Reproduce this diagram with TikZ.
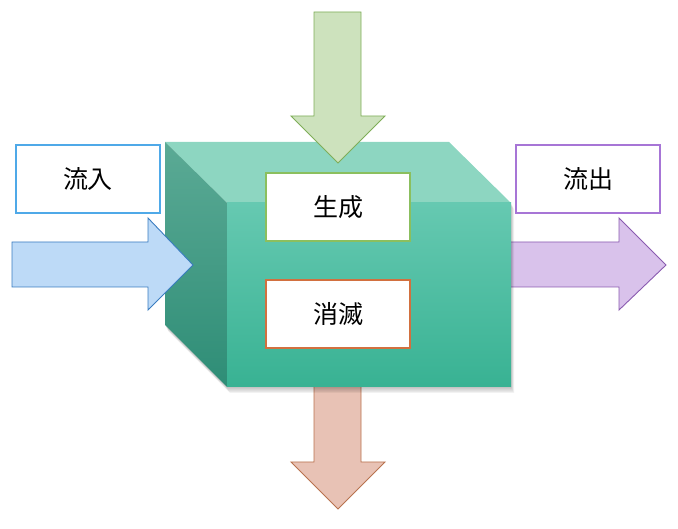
\documentclass[tikz,border=0pt]{standalone}
\usepackage{fontspec}
\newfontfamily\cjk{Noto Sans CJK JP}
\definecolor{topface}{HTML}{8DD6C1}
\definecolor{fronttop}{HTML}{66C9B1}
\definecolor{frontbot}{HTML}{38B293}
\definecolor{lefttop}{HTML}{5BAA95}
\definecolor{leftbot}{HTML}{2E8D76}
\definecolor{inFill}{HTML}{BDDAF7}
\definecolor{inLine}{HTML}{3A7CC0}
\definecolor{inBox}{HTML}{4FA9E8}
\definecolor{outFill}{HTML}{D9C2EB}
\definecolor{outLine}{HTML}{8A5BB0}
\definecolor{outBox}{HTML}{A775D6}
\definecolor{genFill}{HTML}{CDE2BD}
\definecolor{genLine}{HTML}{7FAE58}
\definecolor{genBox}{HTML}{8BBF5E}
\definecolor{lossFill}{HTML}{E8C2B5}
\definecolor{lossLine}{HTML}{B8724E}
\definecolor{lossBox}{HTML}{D2703F}
\tikzset{
  labelbox/.style={draw, line width=1.4pt, fill=white, minimum width=144pt, minimum height=68pt, inner sep=0pt, font=\cjk\fontsize{25}{29}\selectfont},
  arrowshape/.style={line width=0.9pt, line join=miter}
}
\begin{document}
\begin{tikzpicture}[x=1pt,y=-1pt]
\useasboundingbox (0,0) rectangle (678,529);
% arrows behind the cube
\draw[arrowshape, fill=outFill, draw=outLine] (500,242) -- (619,242) -- (619,218) -- (666,265) -- (619,310) -- (619,287) -- (500,287) -- cycle;
\draw[arrowshape, fill=lossFill, draw=lossLine] (314,380) -- (314,462) -- (291,462) -- (338,509) -- (385,462) -- (361,462) -- (361,380) -- cycle;
% cube shadow
\foreach \i in {1,...,5}{
  \fill[black, opacity=0.05] (165+\i*0.6,142+\i*1.2) -- (449+\i*0.6,142+\i*1.2) -- (511+\i*0.6,203+\i*1.2) -- (511+\i*0.6,387+\i*1.2) -- (227+\i*0.6,387+\i*1.2) -- (165+\i*0.6,325+\i*1.2) -- cycle;
}
% cube
\fill[topface] (165,142) -- (449,142) -- (511,203) -- (227,203) -- cycle;
\shade[top color=lefttop, bottom color=leftbot] (165,142) -- (227,203) -- (227,387) -- (165,325) -- cycle;
\shade[top color=fronttop, bottom color=frontbot] (227,203) rectangle (511,387);
% arrows in front
\draw[arrowshape, fill=inFill, draw=inLine] (12,242) -- (148,242) -- (148,218) -- (193,265) -- (148,310) -- (148,287) -- (12,287) -- cycle;
\draw[arrowshape, fill=genFill, draw=genLine] (314,12) -- (314,116) -- (291,116) -- (338,163) -- (385,116) -- (361,116) -- (361,12) -- cycle;
% label boxes
\node[labelbox, draw=inBox] (inflow) at (88,179) {流入};
\node[labelbox, draw=outBox] (outflow) at (588,179) {流出};
\node[labelbox, draw=genBox] (gen) at (338,207) {生成};
\node[labelbox, draw=lossBox] (loss) at (338,314) {消滅};
\end{tikzpicture}
\end{document}
